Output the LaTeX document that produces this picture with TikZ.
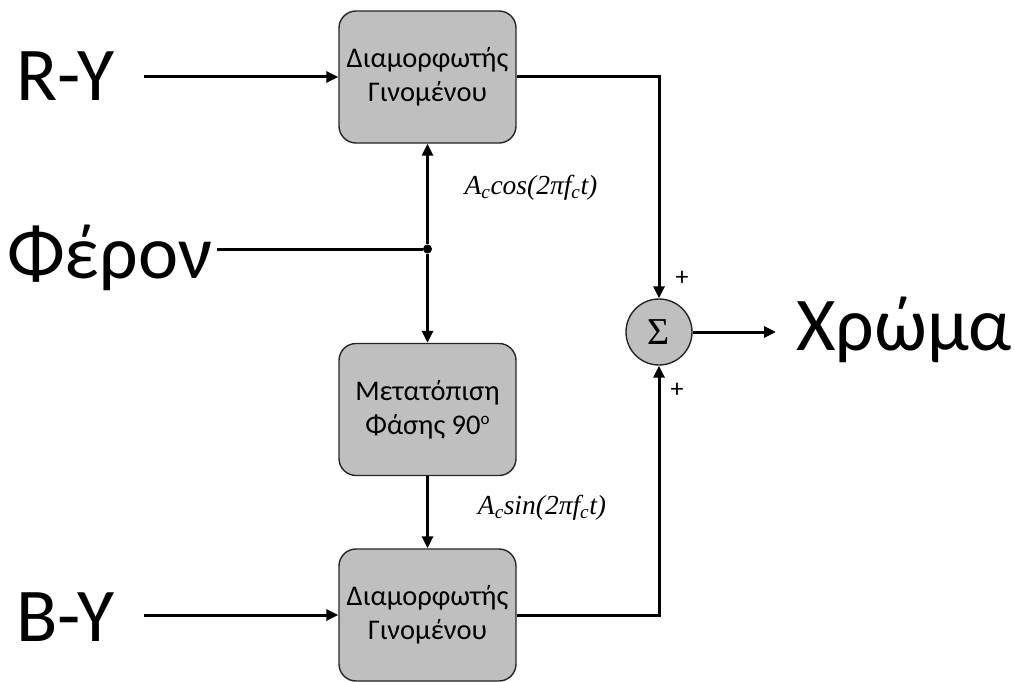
\documentclass[tikz,border=0pt]{standalone}
\usepackage{fontspec}
\setmainfont{Carlito}
\newfontfamily\tnr{Liberation Serif}
\usetikzlibrary{arrows.meta}

\tikzset{
  block/.style={draw=black!85, line width=1.4pt, fill=black!25, rounded corners=17pt,
    minimum width=177pt, minimum height=132pt, align=center, inner sep=0pt,
    font=\fontsize{28.5}{34}\selectfont},
  bigtext/.style={inner sep=0pt, font=\fontsize{76}{80}\selectfont},
  sumnode/.style={draw=black!85, line width=1.4pt, fill=black!25, circle,
    minimum size=66pt, inner sep=0pt, font=\tnr\fontsize{38}{38}\selectfont},
  arr/.style={line width=3pt, -{Triangle[length=12pt,width=11pt]}},
  wire/.style={line width=3pt},
  siglabel/.style={inner sep=0pt, font=\tnr\itshape\fontsize{27.5}{28}\selectfont},
  plus/.style={inner sep=0pt, font=\fontsize{26}{26}\selectfont}
}

\begin{document}
\begin{tikzpicture}[x=1pt,y=-1pt]
  \useasboundingbox (0,0) rectangle (1014,682);

  % modulators, phase shifter and summer
  \node[block] (top) at (427.5,77) {Διαμορφωτής\\Γινομένου};
  \node[block] (mid) at (427.5,409.5) {Μετατόπιση\\Φάσης 90\raisebox{0.75ex}{\fontsize{17}{17}\selectfont o}};
  \node[block] (bot) at (427.5,615) {Διαμορφωτής\\Γινομένου};
  \node[sumnode] (sum) at (659,332) {Σ};

  % input and output labels
  \node[bigtext, anchor=base west] (ry) at (16,101) {R-Y};
  \node[bigtext, anchor=base west] (by) at (16,641) {B-Y};
  \node[bigtext, anchor=base west] (car) at (7,278) {Φέρον};
  \node[bigtext, anchor=base west] (out) at (796,350) {Χρώμα};

  % carrier junction
  \node[circle, fill=black, inner sep=0pt, minimum size=9pt] (dot) at (427.5,249) {};
  \coordinate (outend) at (776,332);

  % connectors
  \draw[arr] ([xshift=30pt]ry.east |- top.west) -- (top.west);
  \draw[arr] ([xshift=30pt]by.east |- bot.west) -- (bot.west);
  \draw[wire] ([xshift=4pt]car.east |- dot) -- (dot);
  \draw[arr] (dot) -- (top.south);
  \draw[arr] (dot) -- (mid.north);
  \draw[arr] (mid.south) -- (bot.north);
  \draw[arr] (top.east) -| (sum.north);
  \draw[arr] (bot.east) -| (sum.south);
  \draw[arr] (sum.east) -- (outend);

  % signal labels
  \node[siglabel] (cosl) at (531,188) {A\textsubscript{c}cos(2πf\textsubscript{c}t)};
  \node[siglabel] (sinl) at (542,508) {A\textsubscript{c}sin(2πf\textsubscript{c}t)};
  \node[plus] (p1) at (682,278) {+};
  \node[plus] (p2) at (677,390) {+};
\end{tikzpicture}
\end{document}
